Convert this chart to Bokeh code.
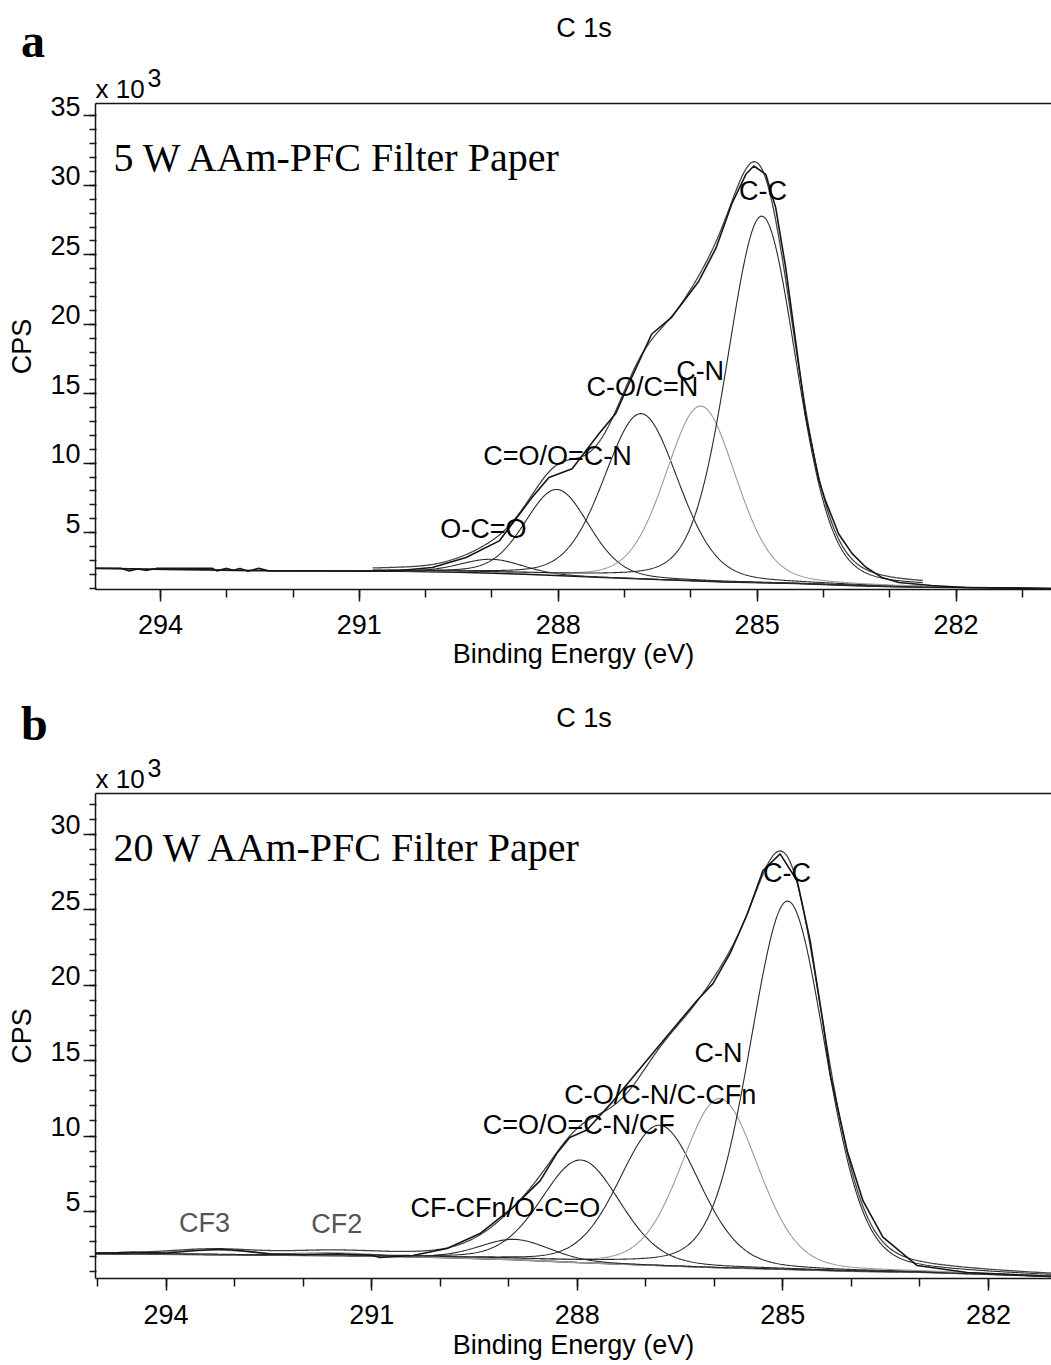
import math
import numpy as np
from bokeh.plotting import figure
from bokeh.models import Range1d, FixedTicker, LinearAxis, Div, Title
from bokeh.core.properties import value
from bokeh.layouts import column
from bokeh.embed import file_html
from bokeh.resources import INLINE

SANS = "Liberation Sans"
SERIF = "Liberation Serif"
INK = "#161616"

# ---------------- 5 W AAm-PFC filter paper (C 1s) ----------------
a_energy = [294.98, 294.6, 294.47, 294.35, 294.2, 294.05, 293.22, 293.15, 293.0, 292.9,
            292.8, 292.68, 292.52, 292.37, 291.9, 291.0, 290.4, 289.9, 289.39, 288.89,
            288.4, 288.14, 287.79, 287.39, 287.13, 286.89, 286.59, 286.29, 285.88, 285.62,
            285.38, 285.17, 285.05, 284.87, 284.72, 284.57, 284.42, 284.27, 284.07, 283.97,
            283.87, 283.77, 283.57, 283.36, 283.12, 282.86, 282.37, 281.85, 280.56]
a_counts = [2.43, 2.43, 2.24, 2.38, 2.28, 2.43, 2.43, 2.24, 2.42, 2.28,
            2.42, 2.22, 2.42, 2.24, 2.24, 2.23, 2.27, 2.48, 3.2, 4.4,
            7.5, 8.96, 9.6, 12.1, 13.6, 16.2, 19.3, 20.5, 23.1, 25.5,
            28.7, 30.8, 31.4, 30.8, 28.4, 24.1, 18.8, 13.5, 8.8, 7.3,
            6.1, 4.9, 3.5, 2.5, 1.77, 1.4, 1.19, 1.04, 0.97]
a_bg_energy = [294.98, 292.4, 290.4, 289.5, 288.5, 287.4, 286.5, 285.5, 284.4, 283.5, 282.9, 280.56]
a_bg_counts = [2.42, 2.25, 2.22, 2.15, 2.0, 1.78, 1.62, 1.45, 1.33, 1.18, 1.1, 0.97]
a_peaks = ["O-C=O", "C=O/O=C-N", "C-O/C=N", "C-N", "C-C"]
a_centers = [289.0, 288.02, 286.75, 285.85, 284.93]
a_heights = [1.0, 6.2, 11.9, 12.6, 26.4]
a_fwhm = [1.1, 1.14, 1.32, 1.25, 1.23]
a_label_e = [289.13, 288.01, 286.73, 285.86, 284.91]
a_label_v = [5.29, 10.55, 15.45, 16.67, 29.6]
a_ticks_x = [294, 291, 288, 285, 282]
a_ticks_y = [5, 10, 15, 20, 25, 30, 35]

# ---------------- 20 W AAm-PFC filter paper (C 1s) ----------------
b_energy = [295.03, 294.5, 294.0, 293.6, 293.2, 292.9, 292.5, 292.0, 291.5, 291.0,
            290.88, 290.4, 289.9, 289.42, 288.94, 288.54, 288.30, 288.11, 287.86, 287.48,
            287.08, 286.75, 286.25, 286.02, 285.77, 285.52, 285.29, 285.04, 284.79, 284.60,
            284.41, 284.31, 284.06, 283.83, 283.54, 283.04, 282.31, 281.08]
b_counts = [2.22, 2.3, 2.25, 2.4, 2.5, 2.4, 2.2, 2.15, 2.2, 2.1,
            1.95, 2.08, 2.55, 3.54, 5.26, 7.05, 8.84, 9.9, 10.4, 12.3,
            14.5, 16.3, 19.0, 20.1, 22.1, 24.7, 27.6, 28.7, 26.9, 22.9,
            17.4, 14.1, 9.0, 5.7, 3.3, 1.42, 0.96, 0.7]
b_bg_energy = [295.03, 291.0, 290.0, 289.0, 288.0, 287.0, 286.0, 285.0, 284.0, 283.0, 281.08]
b_bg_counts = [2.2, 2.05, 1.95, 1.82, 1.62, 1.45, 1.29, 1.18, 1.05, 0.98, 0.7]
b_peaks = ["CF3", "CF2", "CF-CFn/O-C=O", "C=O/O=C-N/CF", "C-O/C-N/C-CFn", "C-N", "C-C"]
b_centers = [293.3, 291.6, 288.91, 287.95, 286.8, 285.92, 284.93]
b_heights = [0.3, 0.2, 1.35, 6.8, 9.3, 11.2, 24.4]
b_fwhm = [1.4, 1.4, 1.22, 1.36, 1.38, 1.32, 1.3]
b_label_e = [293.44, 291.51, 289.05, 287.98, 286.79, 285.94, 284.94]
b_label_v = [4.27, 4.2, 5.26, 10.7, 12.7, 15.5, 27.45]
b_ticks_x = [294, 291, 288, 285, 282]
b_ticks_y = [5, 10, 15, 20, 25, 30]

GL_MIX = 0.2


def gl(e, c, h, w, m=GL_MIX):
    """Gaussian-Lorentzian mixed line shape of a fitted component."""
    d = (e - c) / w
    return h * ((1 - m) * np.exp(-4 * math.log(2) * d * d) + m / (1 + 4 * d * d))


def header(height, letter, letter_top, title_top):
    # panel letter and region title above each plot
    html = (
        f'<div style="position:relative;width:1051px;height:{height}px;margin:0;padding:0;'
        f'background:#fff;color:#000;">'
        f'<span style="position:absolute;left:21px;top:{letter_top}px;'
        f"font:bold 48px/1 'Liberation Serif';white-space:nowrap;\">{letter}</span>"
        f'<span style="position:absolute;left:484px;width:200px;top:{title_top}px;'
        f"text-align:center;font:27px/1 'Liberation Sans';white-space:nowrap;\">C 1s</span>"
        '</div>'
    )
    return Div(text=html, width=1051, height=height, margin=(0, 0, 0, 0))


def add_multiplier(p):
    # "x 10^3" written just above the top-left corner of the frame
    p.add_layout(Title(text="x 10", align="left", offset=0, standoff=0,
                       vertical_align="bottom", text_font=SANS, text_font_size="26px",
                       text_font_style="normal", text_color="black"), "above")
    try:
        sup = Title(text="3", align="left", offset=52, standoff=-30,
                    vertical_align="bottom", text_font=SANS, text_font_size="25px",
                    text_font_style="normal", text_color="black")
    except ValueError:
        sup = None
    if sup is not None:
        p.add_layout(sup, "above")


def make_panel(sample, xr, yr, height, top, bottom, energy, counts, bg_e, bg_v,
               names, centers, heights, fwhm, lab_e, lab_v, ticks_x, ticks_y,
               fit_lo, fit_hi, gray_names, tick_std, label_std):
    p = figure(width=1051, height=height, x_range=Range1d(*xr), y_range=Range1d(*yr),
               output_backend="svg", toolbar_location=None,
               min_border_left=95, min_border_right=0, min_border_top=top,
               min_border_bottom=bottom)
    p.title.visible = False
    p.xgrid.visible = False
    p.ygrid.visible = False
    p.outline_line_color = None
    p.background_fill_color = "white"

    # x axis
    xa = p.xaxis[0]
    xa.ticker = FixedTicker(ticks=ticks_x, minor_ticks=list(range(281, 296)))
    xa.axis_label = "Binding Energy (eV)"
    xa.axis_label_text_font = SANS
    xa.axis_label_text_font_size = "27px"
    xa.axis_label_text_font_style = "normal"
    xa.axis_label_text_color = "black"
    xa.axis_label_standoff = label_std
    xa.major_label_text_font = SANS
    xa.major_label_text_font_size = "27px"
    xa.major_label_text_color = "black"
    xa.major_label_standoff = tick_std
    xa.major_tick_out = 12
    xa.major_tick_in = 0
    xa.minor_tick_out = 8
    xa.minor_tick_in = 0
    xa.axis_line_width = 1.5
    xa.major_tick_line_width = 1.5
    xa.minor_tick_line_width = 1.5
    xa.axis_line_color = INK
    xa.major_tick_line_color = INK
    xa.minor_tick_line_color = INK

    # y axis: ticks on the data range
    ya = p.yaxis[0]
    ya.ticker = FixedTicker(ticks=ticks_y, minor_ticks=list(range(1, int(yr[1]) + 1)))
    ya.major_label_overrides = {t: "" for t in ticks_y}
    ya.major_label_standoff = 0
    ya.major_tick_out = 12
    ya.major_tick_in = 0
    ya.minor_tick_out = 6
    ya.minor_tick_in = 1
    ya.axis_line_width = 1.5
    ya.major_tick_line_width = 1.5
    ya.minor_tick_line_width = 1.5
    ya.axis_line_color = INK
    ya.major_tick_line_color = INK
    ya.minor_tick_line_color = INK

    # y tick values sit just above their ticks: a second scale lifted by half a digit
    px_per_unit = (height - top - bottom) / (yr[1] - yr[0])
    lift = 9.5 / px_per_unit
    p.extra_y_ranges = {"lbl": Range1d(yr[0] - lift, yr[1] - lift)}
    lab_axis = LinearAxis(y_range_name="lbl", ticker=FixedTicker(ticks=ticks_y, minor_ticks=[]),
                          major_tick_out=0, major_tick_in=0, minor_tick_out=0, minor_tick_in=0,
                          axis_line_color=None, major_label_text_font=SANS,
                          major_label_text_font_size="27px", major_label_text_color="black",
                          major_label_standoff=3, axis_label="CPS", axis_label_text_font=SANS,
                          axis_label_text_font_size="27px", axis_label_text_font_style="normal",
                          axis_label_text_color="black", axis_label_standoff=10)
    p.add_layout(lab_axis, "left")

    # top frame line, then the multiplier above it
    top_axis = LinearAxis(ticker=FixedTicker(ticks=[]), major_label_standoff=0,
                          major_tick_out=0, minor_tick_out=0,
                          axis_line_width=1.5, axis_line_color=INK)
    p.add_layout(top_axis, "above")
    add_multiplier(p)

    # background, fitted components and envelope
    grid = np.linspace(fit_hi, fit_lo, 700)
    bg_grid = np.interp(grid, bg_e[::-1], bg_v[::-1])
    p.line(bg_e, bg_v, line_color=INK, line_width=1.6)
    total = bg_grid.copy()
    for n, c, h, w in zip(names, centers, heights, fwhm):
        comp = gl(grid, c, h, w)
        total = total + comp
        col = "#9a9a9a" if n in gray_names else "#2a2a2a"
        p.line(grid, bg_grid + comp, line_color=col, line_width=1.1)
    p.line(grid, total, line_color="#444444", line_width=1.3)

    # measured spectrum
    p.line(energy, counts, line_color=INK, line_width=1.6)

    # component annotations
    p.text(x=lab_e, y=lab_v, text=names, text_font=value(SANS), text_font_size=value("27px"),
           text_align="center", text_baseline="middle",
           text_color=["#555555" if n in ("CF3", "CF2") else "black" for n in names])

    # sample name inside the frame
    px_per_ev = (1051 - 95) / (xr[0] - xr[1])
    p.text(x=[xr[0] - 18 / px_per_ev], y=[yr[1] - 54 / px_per_unit],
           text=[sample], text_font=value(SERIF), text_font_size=value("40px"),
           text_align="left", text_baseline="alphabetic", text_color="black")
    return p


head_a = header(64, "a", 17, 15)
pa = make_panel("5 W AAm-PFC Filter Paper", (294.98, 280.56), (0.9, 35.9), 618, 39, 93,
                a_energy, a_counts, a_bg_energy, a_bg_counts,
                a_peaks, a_centers, a_heights, a_fwhm, a_label_e, a_label_v,
                a_ticks_x, a_ticks_y, 282.5, 290.8, ("C-N",), 13, 2)
head_b = header(64, "b", 18, 23)
pb = make_panel("20 W AAm-PFC Filter Paper", (295.03, 281.08), (0.56, 32.7), 619, 47, 87,
                b_energy, b_counts, b_bg_energy, b_bg_counts,
                b_peaks, b_centers, b_heights, b_fwhm, b_label_e, b_label_v,
                b_ticks_x, b_ticks_y, 281.08, 295.03, ("C-N", "CF3", "CF2"), 14, 3)

layout = column(head_a, pa, head_b, pb, spacing=0)
open("out.html", "w").write(file_html(layout, INLINE))
